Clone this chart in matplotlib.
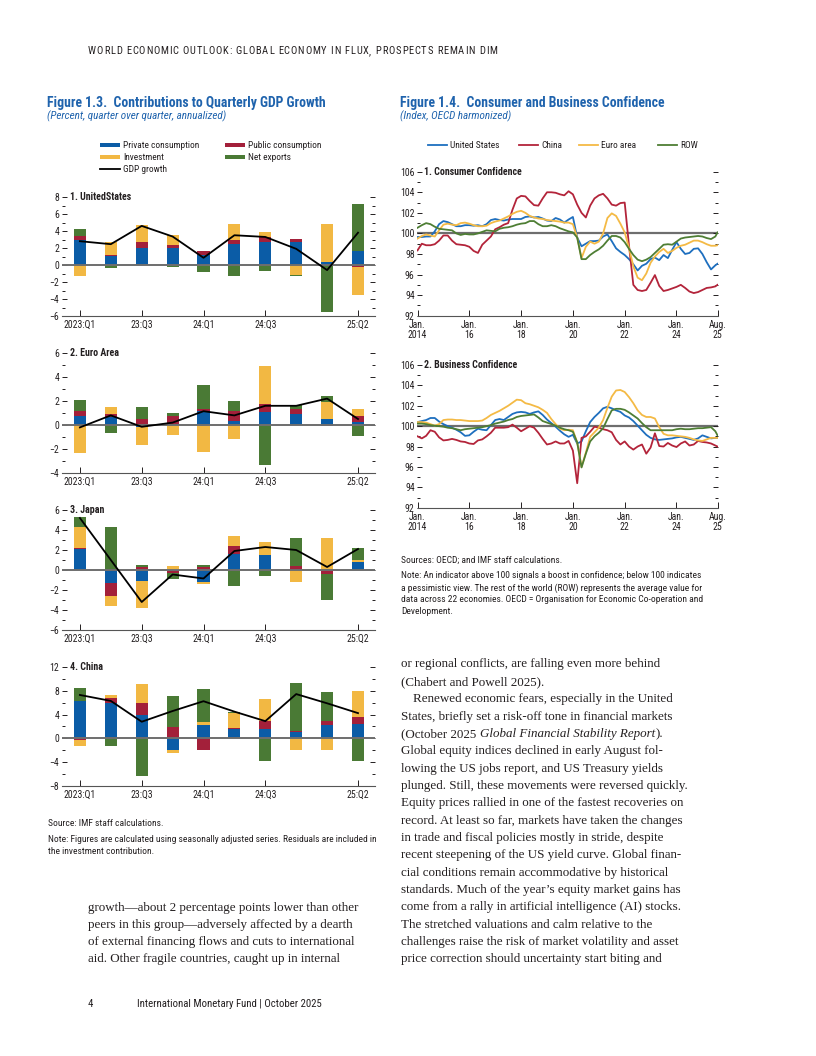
import numpy as np
import matplotlib
matplotlib.use("Agg")
import matplotlib.pyplot as plt
from matplotlib import font_manager as fm
from matplotlib.patches import Rectangle
from matplotlib.lines import Line2D
from matplotlib.ticker import MultipleLocator

# ------------------------------------------------------------------ data
quarters = ["2023:Q1", "23:Q2", "23:Q3", "23:Q4", "24:Q1", "24:Q2", "24:Q3", "24:Q4", "25:Q1", "25:Q2"]
quarter_ticks = [0, 2, 4, 6, 9]
quarter_tick_labels = ["2023:Q1", "23:Q3", "24:Q1", "24:Q3", "25:Q2"]

us_private = [3.0, 1.1, 2.0, 1.95, 1.2, 2.5, 2.65, 2.65, 0.3, 1.7]
us_public = [0.45, 0.1, 0.75, 0.45, 0.4, 0.5, 0.6, 0.45, 0.0, -0.2]
us_invest = [-1.35, 1.55, 1.9, 1.15, -0.15, 1.8, 0.65, -1.2, 4.55, -3.3]
us_netexp = [0.75, -0.4, 0.05, -0.2, -0.65, -1.35, -0.7, -0.1, -5.5, 5.5]
us_gdp = [2.8, 2.45, 4.6, 3.35, 0.85, 3.5, 3.3, 1.9, -0.6, 3.8]

ea_private = [0.75, 0.65, -0.15, 0.1, 1.2, 0.3, 1.1, 0.95, 0.5, 0.25]
ea_public = [0.45, 0.25, 0.5, 0.65, 0.15, 0.9, 0.65, 0.4, -0.05, 0.5]
ea_invest = [-2.35, 0.6, -1.5, -0.8, -2.25, -1.15, 3.2, 0.0, 1.45, 0.6]
ea_netexp = [0.9, -0.65, 1.0, 0.25, 2.0, 0.8, -3.35, 0.35, 0.45, -0.9]
ea_gdp = [-0.2, 0.8, -0.15, 0.2, 1.15, 0.8, 1.6, 1.6, 2.2, 0.5]

jp_private = [2.1, -1.3, -1.1, -0.1, -1.2, 1.6, 1.5, 0.05, 0.0, 0.8]
jp_public = [0.1, -1.3, 0.27, -0.2, 0.3, 0.8, 0.0, 0.35, -0.4, 0.0]
jp_invest = [2.1, -1.0, -2.7, 0.4, -0.2, 1.0, 1.3, -1.2, 3.2, 0.2]
jp_netexp = [1.0, 4.3, 0.23, -0.6, 0.2, -1.6, -0.6, 2.8, -2.6, 1.2]
jp_gdp = [5.2, 1.0, -3.2, -0.45, -0.85, 1.9, 2.3, 2.0, 0.3, 2.1]

cn_private = [6.3, 5.95, 3.95, -1.9, 2.3, 1.6, 1.6, 1.0, 2.2, 2.5]
cn_public = [-0.3, 0.85, 2.05, 2.0, -2.0, 0.2, 1.3, 0.3, 0.65, 1.1]
cn_invest = [-0.9, 0.5, 3.2, -0.6, 0.5, 2.5, 3.7, -2.0, -2.0, 4.4]
cn_netexp = [2.2, -1.2, -6.4, 5.1, 5.5, 0.2, -3.85, 8.05, 5.0, -3.85]
cn_gdp = [7.3, 6.3, 2.8, 4.6, 6.25, 4.5, 2.9, 7.45, 5.9, 4.25]

# confidence indices, bimonthly Jan 2014 .. Jul 2025 plus Aug 2025
months = [f"{y}-{m:02d}" for y in range(2014, 2026) for m in (1, 3, 5, 7, 9, 11)][:70] + ["2025-08"]

cc_us = [99.65, 99.65, 99.7, 99.7, 100.2, 100.9, 101.2, 101.1, 100.9, 100.7, 100.7, 100.8,
         100.8, 100.75, 100.8, 100.7, 100.9, 101.3, 101.4, 101.3, 101.25, 101.35, 101.4, 101.4,
         101.4, 101.6, 101.65, 101.55, 101.6, 101.45, 101.25, 101.2, 101.5, 101.35, 101.05, 101.35,
         101.6, 99.6, 98.75, 99.0, 99.25, 99.25, 99.3, 99.7, 99.9, 99.25, 98.55, 98.2,
         97.9, 97.5, 97.0, 96.4, 96.85, 97.05, 97.5, 97.65, 97.4, 97.9, 97.6, 98.4,
         99.15, 98.5, 98.0, 98.1, 98.5, 98.55, 98.0, 97.2, 96.5, 96.9, 97.05]
cc_cn = [98.35, 99.0, 98.85, 98.85, 98.95, 99.3, 99.8, 99.8, 99.3, 98.95, 98.9, 98.85,
         98.7, 98.3, 98.1, 98.9, 99.3, 99.7, 100.4, 100.6, 100.85, 101.0, 102.3, 103.4,
         103.65, 103.6, 103.15, 102.75, 102.7, 103.4, 104.0, 104.0, 103.95, 103.8, 103.7, 104.1,
         103.8, 102.8, 102.0, 101.55, 102.7, 103.4, 103.7, 103.85, 103.4, 102.8, 102.7, 102.95,
         103.0, 98.8, 95.0, 94.5, 94.4, 94.5, 95.2, 95.95, 94.9, 94.4, 94.5, 94.65,
         94.8, 95.0, 94.7, 94.35, 94.2, 94.3, 94.5, 94.7, 94.75, 94.85, 95.0]
cc_ea = [99.5, 99.75, 99.9, 99.8, 99.7, 100.3, 100.85, 100.95, 100.85, 100.8, 101.0, 101.05,
         100.95, 100.8, 100.7, 100.7, 100.75, 101.0, 101.15, 101.25, 101.45, 101.65, 101.9, 102.1,
         102.2, 102.0, 101.7, 101.55, 101.45, 101.4, 101.3, 101.25, 101.2, 101.15, 101.05, 101.05,
         100.9, 99.6, 97.6, 98.7, 99.2, 99.0, 99.2, 100.0, 101.5, 101.95, 101.7, 100.95,
         100.1, 98.6, 96.8, 95.7, 95.45, 96.1, 97.15, 97.75, 98.2, 98.5, 98.1, 98.3,
         98.6, 98.8, 98.9, 99.1, 99.3, 99.3, 99.15, 98.95, 98.8, 98.8, 98.85]
cc_row = [100.55, 100.8, 101.0, 100.9, 100.65, 100.45, 100.4, 100.35, 100.3, 100.0, 99.85, 99.95,
          99.9, 99.9, 100.0, 100.15, 100.3, 100.25, 100.2, 100.45, 100.55, 100.6, 100.7, 100.85,
          100.95, 101.0, 101.2, 101.2, 100.9, 100.7, 100.7, 100.8, 100.7, 100.5, 100.35, 100.2,
          100.1, 99.6, 97.5, 97.5, 97.9, 98.2, 98.45, 98.8, 99.3, 99.75, 99.75, 99.6,
          99.15, 98.5, 97.9, 97.45, 97.3, 97.45, 97.7, 98.1, 98.5, 98.9, 98.95, 98.9,
          99.2, 99.5, 99.6, 99.65, 99.7, 99.75, 99.7, 99.55, 99.45, 99.7, 100.1]

bc_us = [100.4, 100.5, 100.6, 100.8, 100.8, 100.45, 100.2, 100.0, 99.85, 99.65, 99.4, 99.05,
         99.1, 99.45, 99.75, 99.65, 99.6, 100.1, 100.6, 100.7, 100.6, 100.9, 101.2, 101.35,
         101.4, 101.35, 101.2, 101.35, 101.45, 101.1, 100.65, 100.3, 99.95, 99.55, 99.2, 98.95,
         99.15, 98.3, 98.5, 99.5, 100.4, 100.9, 101.3, 101.75, 101.9, 101.75, 101.55, 101.4,
         101.05, 100.85, 100.5, 100.05, 99.6, 99.15, 98.85, 98.7, 98.65, 98.7, 98.75, 98.8,
         98.9, 98.95, 98.85, 98.75, 98.65, 98.8, 99.1, 98.95, 98.8, 98.85, 98.85]
bc_cn = [99.0, 98.8, 99.05, 99.6, 99.45, 98.9, 98.6, 98.65, 98.75, 98.65, 98.5, 98.45,
         98.3, 98.25, 98.6, 98.7, 99.0, 99.35, 99.85, 99.85, 99.85, 99.9, 100.15, 99.85,
         99.5, 99.75, 100.0, 99.85, 99.35, 98.75, 98.2, 98.3, 98.5, 98.3, 98.3, 98.55,
         97.6, 94.4, 98.85, 99.0, 99.45, 99.95, 99.85, 99.7, 99.6, 99.4, 98.65, 98.2,
         98.5, 98.0, 97.7, 98.0, 98.2, 97.3, 97.9, 99.3, 98.05, 98.0, 98.35, 98.1,
         97.95, 98.3, 98.5, 98.1, 98.2, 98.55, 98.45, 98.4, 98.3, 98.1, 98.0]
bc_ea = [100.4, 100.4, 100.35, 100.2, 100.05, 100.2, 100.6, 100.65, 100.65, 100.6, 100.6, 100.55,
         100.5, 100.5, 100.5, 100.55, 100.8, 101.1, 101.3, 101.5, 101.75, 102.0, 102.3, 102.6,
         102.55, 102.25, 102.15, 102.0, 101.85, 101.6, 101.3, 100.7, 100.2, 99.75, 99.6, 99.65,
         99.6, 98.4, 96.0, 97.4, 98.95, 99.4, 99.85, 100.6, 101.8, 102.9, 103.5, 103.55,
         103.35, 102.85, 102.25, 101.55, 101.1, 100.9, 100.9, 100.75, 99.9, 99.25, 99.1, 99.1,
         99.05, 99.0, 98.95, 98.85, 98.7, 98.6, 98.55, 98.7, 98.85, 98.85, 98.85]
bc_row = [100.25, 100.25, 100.2, 100.1, 100.05, 100.0, 99.95, 99.85, 99.8, 99.7, 99.6, 99.7,
          99.75, 99.8, 99.85, 99.9, 100.0, 100.1, 100.25, 100.35, 100.45, 100.6, 100.7, 100.9,
          101.0, 101.05, 101.1, 101.15, 100.85, 100.5, 100.35, 100.2, 100.05, 99.85, 99.7, 99.6,
          99.45, 98.4, 95.95, 97.3, 98.5, 99.0, 99.35, 99.8, 100.7, 101.55, 101.7, 101.7,
          101.6, 101.35, 101.05, 100.75, 100.3, 99.9, 99.6, 99.6, 99.6, 99.6, 99.6, 99.6,
          99.7, 99.75, 99.7, 99.7, 99.75, 99.8, 99.8, 99.85, 99.9, 99.5, 99.1]

line_ticks = ["2014-01", "2016-01", "2018-01", "2020-01", "2022-01", "2024-01", "2025-08"]
line_tick_labels = ["Jan.\n2014", "Jan.\n16", "Jan.\n18", "Jan.\n20", "Jan.\n22", "Jan.\n24", "Aug.\n25"]

# ------------------------------------------------------------------ styles
C_PRIV, C_PUB, C_INV, C_NX = "#0b5ca6", "#a3203a", "#f2b843", "#4a7a35"
L_US, L_CN, L_EA, L_ROW = "#1e6fbf", "#b3243a", "#f4ba45", "#4e7e34"
TITLE_BLUE = "#1f63ad"
TXT = "#231f20"

names = {f.name for f in fm.fontManager.ttflist}
def pick(cands, default):
    for c in cands:
        if c in names:
            return c
    return default

SANS = pick(["Roboto Condensed", "Liberation Sans Narrow", "Open Sans Condensed", "Roboto"], "DejaVu Sans")
SERIF = pick(["Liberation Serif", "DejaVu Serif"], "DejaVu Serif")
plt.rcParams["font.family"] = [SANS, "DejaVu Sans"]
plt.rcParams["font.stretch"] = "condensed"

W, H = 816, 1056
fig = plt.figure(figsize=(W / 100, H / 100), dpi=100)
fig.patch.set_facecolor("white")
renderer = fig.canvas.get_renderer()


def fx(x):
    return x / W


def fy(y):
    return 1 - y / H


def tw(s, size, **kw):
    t = fig.text(0, 0, s, fontsize=size, **kw)
    w = t.get_window_extent(renderer).width
    t.remove()
    return w


def fit(s, target, **kw):
    return 10 * target / tw(s, 10, **kw)


def put(x, y, s, size, **kw):
    kw.setdefault("color", TXT)
    kw.setdefault("va", "center")
    return fig.text(fx(x), fy(y), s, fontsize=size, **kw)


def tracked(x, y, s, size, width, **kw):
    """Draw text with letter spacing so that it spans the given width."""
    widths = [tw(ch, size, **kw) if ch != " " else tw("x x", size, **kw) - tw("xx", size, **kw) for ch in s]
    extra = (width - sum(widths)) / (len(s) - 1)
    cx = x
    for ch, w in zip(s, widths):
        if ch != " ":
            put(cx, y, ch, size, **kw)
        cx += w + extra


# sizes fitted to measured widths
s_title = fit("Figure 1.3.  Contributions to Quarterly GDP Growth", 278, weight="bold")
s_sub = fit("(Percent, quarter over quarter, annualized)", 180, style="italic")
s_leg = fit("Private consumption", 76)
s_tick = fit("2023:Q1", 32)
s_panel = fit("1. UnitedStates", 61, weight="bold")
s_note = fit("Note: Figures are calculated using seasonally adjusted series. Residuals are included in", 325)
s_body = 0.5 * (fit("growth\u2014about 2 percentage points lower than other", 274, family=SERIF)
                + fit("Equity prices rallied in one of the fastest recoveries on", 279, family=SERIF))
s_foot = fit("International Monetary Fund | October 2025", 184)

# ------------------------------------------------------------------ header / titles
tracked(88, 51, "WORLD ECONOMIC OUTLOOK: GLOBAL ECONOMY IN FLUX, PROSPECTS REMAIN DIM", 7.6, 409)
put(47, 103, "Figure 1.3.  Contributions to Quarterly GDP Growth", s_title, weight="bold", color=TITLE_BLUE)
put(47, 116, "(Percent, quarter over quarter, annualized)", s_sub, style="italic", color=TITLE_BLUE)
put(400, 103, "Figure 1.4.  Consumer and Business Confidence", s_title, weight="bold", color=TITLE_BLUE)
put(400, 116, "(Index, OECD harmonized)", s_sub, style="italic", color=TITLE_BLUE)

# left legend
leg_items = [("Private consumption", C_PRIV, 100, 145), ("Public consumption", C_PUB, 225, 145),
             ("Investment", C_INV, 100, 157), ("Net exports", C_NX, 225, 157)]
for lab, col, x0, y0 in leg_items:
    fig.add_artist(Rectangle((fx(x0), fy(y0 + 2.4)), 20 / W, 4.8 / H, transform=fig.transFigure,
                             facecolor=col, edgecolor="none"))
    put(x0 + 23, y0, lab, s_leg)
fig.add_artist(Line2D([fx(100), fx(120)], [fy(169), fy(169)], transform=fig.transFigure, color="black", lw=1.3))
put(123, 169, "GDP growth", s_leg)

# right legend
for lab, col, x0 in [("United States", L_US, 428), ("China", L_CN, 519), ("Euro area", L_EA, 579), ("ROW", L_ROW, 658)]:
    fig.add_artist(Line2D([fx(x0), fx(x0 + 19)], [fy(145), fy(145)], transform=fig.transFigure, color=col, lw=1.3))
    put(x0 + 22, 145, lab, s_leg)

# ------------------------------------------------------------------ bar panels
panels = [
    ("1. UnitedStates", (us_private, us_public, us_invest, us_netexp), us_gdp, (-6, 8), 2, 197, 316),
    ("2. Euro Area", (ea_private, ea_public, ea_invest, ea_netexp), ea_gdp, (-4, 6), 2, 353, 473),
    ("3. Japan", (jp_private, jp_public, jp_invest, jp_netexp), jp_gdp, (-6, 6), 2, 510, 630),
    ("4. China", (cn_private, cn_public, cn_invest, cn_netexp), cn_gdp, (-8, 12), 4, 667, 786),
]
xq = np.arange(len(quarters))
for title, comps, gdp, ylim, step, ytop, ybot in panels:
    ax = fig.add_axes([fx(62), fy(ybot), 313 / W, (ybot - ytop) / H])
    pos_b = np.zeros(len(xq))
    neg_b = np.zeros(len(xq))
    for vals, col in zip(comps, (C_PRIV, C_PUB, C_INV, C_NX)):
        v = np.asarray(vals, dtype=float)
        p = np.where(v > 0, v, 0.0)
        n = np.where(v < 0, v, 0.0)
        ax.bar(xq, p, bottom=pos_b, width=0.39, color=col, linewidth=0, zorder=2)
        ax.bar(xq, n, bottom=neg_b, width=0.39, color=col, linewidth=0, zorder=2)
        pos_b += p
        neg_b += n
    ax.axhline(0, color="#6e6e6e", lw=1.4, zorder=3)
    ax.plot(xq, gdp, color="black", lw=1.3, zorder=4)
    ax.set_xlim(-0.58, 9.55)
    ax.set_ylim(*ylim)
    for s in ("top", "right", "left"):
        ax.spines[s].set_visible(False)
    ax.spines["bottom"].set_color("#555555")
    ax.spines["bottom"].set_linewidth(0.8)
    ax.yaxis.set_major_locator(MultipleLocator(step))
    ax.yaxis.set_minor_locator(MultipleLocator(step / 2))
    ax.tick_params(axis="y", which="major", direction="in", left=True, right=True, length=3.5,
                   width=0.7, pad=2, labelsize=s_tick, colors=TXT)
    ax.tick_params(axis="y", which="minor", direction="in", left=True, right=True, length=2,
                   width=0.7, colors=TXT)
    ax.set_xticks(quarter_ticks)
    ax.set_xticklabels(quarter_tick_labels)
    ax.tick_params(axis="x", direction="in", length=4, width=0.7, pad=3, labelsize=s_tick, colors=TXT)
    ax.set_facecolor("none")
    ax.text(0.026, 1.0, title, transform=ax.transAxes, fontsize=s_panel, weight="bold",
            va="center", ha="left", color=TXT)

# ------------------------------------------------------------------ line panels
def dec_year(m):
    y, mo = m.split("-")
    return int(y) + (int(mo) - 1) / 12


tdates = np.array([dec_year(m) for m in months])
ticks_x = [dec_year(m) for m in line_ticks]
lpanels = [
    ("1. Consumer Confidence", (cc_us, cc_cn, cc_ea, cc_row), 171.7, 315.7),
    ("2. Business Confidence", (bc_us, bc_cn, bc_ea, bc_row), 365, 507.7),
]
for title, series, ytop, ybot in lpanels:
    ax = fig.add_axes([fx(417.5), fy(ybot), 300 / W, (ybot - ytop) / H])
    ax.axhline(100, color="#6e6e6e", lw=1.6, zorder=1)
    for vals, col in zip(series, (L_US, L_CN, L_EA, L_ROW)):
        ax.plot(tdates, vals, color=col, lw=1.3, zorder=2)
    ax.set_xlim(ticks_x[0], ticks_x[-1])
    ax.set_ylim(92, 106)
    for s in ("top", "right", "left"):
        ax.spines[s].set_visible(False)
    ax.spines["bottom"].set_color("#555555")
    ax.spines["bottom"].set_linewidth(0.8)
    ax.yaxis.set_major_locator(MultipleLocator(2))
    ax.yaxis.set_minor_locator(MultipleLocator(1))
    ax.tick_params(axis="y", which="major", direction="in", left=True, right=True, length=3.5,
                   width=0.7, pad=2, labelsize=s_tick, colors=TXT)
    ax.tick_params(axis="y", which="minor", direction="in", left=True, right=True, length=2,
                   width=0.7, colors=TXT)
    ax.set_xticks(ticks_x)
    ax.set_xticklabels(line_tick_labels, linespacing=1.05)
    ax.tick_params(axis="x", direction="in", length=4, width=0.7, pad=3, labelsize=s_tick, colors=TXT)
    ax.set_facecolor("none")
    ax.text(0.022, 1.0, title, transform=ax.transAxes, fontsize=s_panel, weight="bold",
            va="center", ha="left", color=TXT)

# ------------------------------------------------------------------ notes
put(48, 824, "Source: IMF staff calculations.", s_note)
put(48, 840, "Note: Figures are calculated using seasonally adjusted series. Residuals are included in", s_note)
put(48, 852, "the investment contribution.", s_note)

put(401, 560, "Sources: OECD; and IMF staff calculations.", s_note)
rnote = ["Note: An indicator above 100 signals a boost in confidence; below 100 indicates",
         "a pessimistic view. The rest of the world (ROW) represents the average value for",
         "data across 22 economies. OECD = Organisation for Economic Co-operation and",
         "Development."]
for i, line in enumerate(rnote):
    put(401, 576 + i * 12, line, s_note)

# ------------------------------------------------------------------ body text
left_body = ["growth\u2014about 2 percentage points lower than other",
             "peers in this group\u2014adversely affected by a dearth",
             "of external financing flows and cuts to international",
             "aid. Other fragile countries, caught up in internal"]
for i, line in enumerate(left_body):
    put(88, 907 + i * 17.2 + 3.5, line, s_body, family=SERIF, va="baseline")

right_body = ["or regional conflicts, are falling even more behind",
              "(Chabert and Powell 2025).",
              "Renewed economic fears, especially in the United",
              "States, briefly set a risk-off tone in financial markets",
              None,
              "Global equity indices declined in early August fol-",
              "lowing the US jobs report, and US Treasury yields",
              "plunged. Still, these movements were reversed quickly.",
              "Equity prices rallied in one of the fastest recoveries on",
              "record. At least so far, markets have taken the changes",
              "in trade and fiscal policies mostly in stride, despite",
              "recent steepening of the US yield curve. Global finan-",
              "cial conditions remain accommodative by historical",
              "standards. Much of the year\u2019s equity market gains has",
              "come from a rally in artificial intelligence (AI) stocks.",
              "The stretched valuations and calm relative to the",
              "challenges raise the risk of market volatility and asset",
              "price correction should uncertainty start biting and"]
space_w = tw("x x", s_body, family=SERIF) - tw("xx", s_body, family=SERIF)
for i, line in enumerate(right_body):
    yb = 664 + i * 17.35 + 3.5
    if line is None:
        t1 = put(401, yb, "(October 2025", s_body, family=SERIF, va="baseline")
        x2 = 401 + t1.get_window_extent(renderer).width + space_w
        t2 = put(x2, yb, "Global Financial Stability Report", s_body, family=SERIF, style="italic", va="baseline")
        x3 = x2 + t2.get_window_extent(renderer).width + 0.5
        put(x3, yb, ").", s_body, family=SERIF, va="baseline")
    else:
        x0 = 413 if i == 2 else 401
        put(x0, yb, line, s_body, family=SERIF, va="baseline")

# ------------------------------------------------------------------ footer
put(88, 1004, "4", s_foot)
put(137, 1004, "International Monetary Fund | October 2025", s_foot)

fig.savefig("out.png", dpi=100, facecolor="white")
